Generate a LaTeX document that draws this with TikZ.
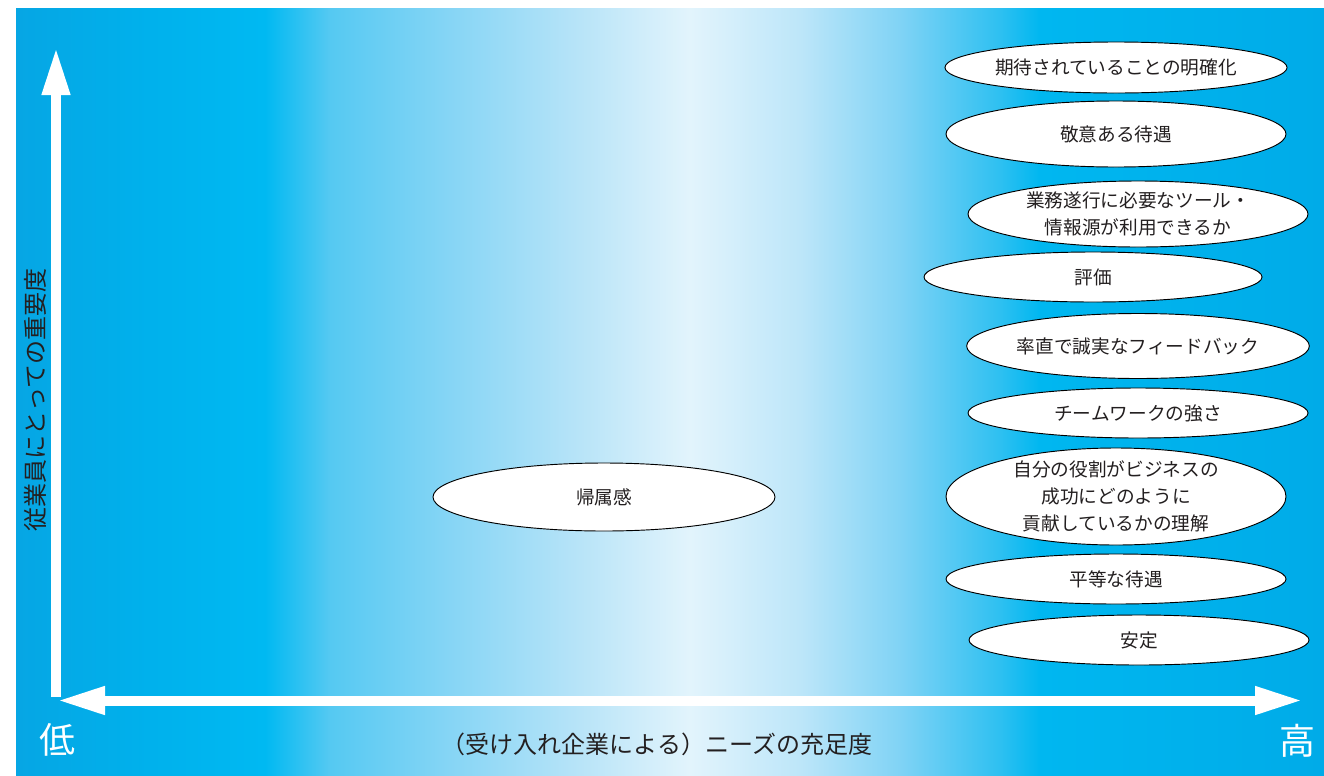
\documentclass[tikz,border=0pt]{standalone}
\usepackage{fontspec}
\setmainfont{Noto Sans CJK JP}
\usetikzlibrary{shapes.geometric,arrows.meta}
\definecolor{ink}{HTML}{231F20}
\definecolor{bgA}{HTML}{06A6E4}
\definecolor{bgB}{HTML}{00B1EC}
\definecolor{bgC}{HTML}{00B9F2}
\definecolor{bgD}{HTML}{55C9F2}
\definecolor{bgE}{HTML}{86D5F5}
\definecolor{bgF}{HTML}{B8E4F8}
\definecolor{bgG}{HTML}{E2F4FC}
\definecolor{bgH}{HTML}{BDE6F9}
\definecolor{bgI}{HTML}{80D3F5}
\definecolor{bgJ}{HTML}{2EC0F1}
\definecolor{bgK}{HTML}{00B7F0}
\definecolor{bgL}{HTML}{00ABE8}
\pgfdeclarehorizontalshading{bgshade}{100bp}{color(0bp)=(bgA); color(25bp)=(bgA);
  color(30.12bp)=(bgB); color(34.52bp)=(bgC); color(37bp)=(bgD); color(41.59bp)=(bgE);
  color(46.56bp)=(bgF); color(50.76bp)=(bgG); color(54.97bp)=(bgH); color(58.79bp)=(bgI);
  color(62.61bp)=(bgJ); color(64.14bp)=(bgK); color(75bp)=(bgL); color(100bp)=(bgL)}
\tikzset{
  item/.style={ellipse,draw=black,line width=0.7pt,fill=white,text=ink,
    minimum width=255pt,inner sep=0pt,align=center,
    font=\fontsize{14pt}{20pt}\selectfont},
  axislbl/.style={text=ink,font=\fontsize{18pt}{22pt}\selectfont},
  endlbl/.style={text=white,font=\fontsize{27pt}{30pt}\selectfont},
  axis/.style={white,line width=7.5pt}
}
\begin{document}
\begin{tikzpicture}[x=0.75pt,y=-0.75pt,>={Triangle[length=36pt,width=19.5pt]}]
\useasboundingbox[fill=white] (0,0) rectangle (1324,775);
\shade[shading=bgshade] (16,8) rectangle (1324,775);
% axes
\coordinate (origin) at (56,697);
\coordinate (ytip) at (56,47);
\coordinate (xlo) at (57,700.5);
\coordinate (xhi) at (1303,700.5);
\draw[axis,->] (origin) -- (ytip);
\draw[axis,<->] (xlo) -- (xhi);
\node (lo) at (57,740) [endlbl] {低};
\node (hi) at (1297,741) [endlbl] {高};
\node (xlbl) at (657,744) [axislbl] {（受け入れ企業による）ニーズの充足度};
\node (ylbl) at (35,400) [axislbl,rotate=90] {従業員にとっての重要度};
% needs
\node (clarity) at (1116,67.5) [item,minimum height=38.25pt] {期待されていることの明確化};
\node (respect) at (1116,134) [item,minimum height=49.5pt] {敬意ある待遇};
\node (tools) at (1138,214) [item,minimum height=49.5pt] {業務遂行に必要なツール・\\情報源が利用できるか};
\node (review) at (1093,277) [item,minimum height=37.5pt,minimum width=253.5pt] {評価};
\node (feedback) at (1138,346) [item,minimum height=48.75pt] {率直で誠実なフィードバック};
\node (teamwork) at (1138,413) [item,minimum height=37.5pt] {チームワークの強さ};
\node (role) at (1116,496.5) [item,minimum height=72.75pt,inner ysep=-3pt] {自分の役割がビジネスの\\成功にどのように\\貢献しているかの理解};
\node (equality) at (1116,579) [item,minimum height=37.5pt] {平等な待遇};
\node (stability) at (1139,640) [item,minimum height=37.5pt] {安定};
\node (belonging) at (604,497) [item,minimum height=51pt,minimum width=256.5pt] {帰属感};
\end{tikzpicture}
\end{document}
